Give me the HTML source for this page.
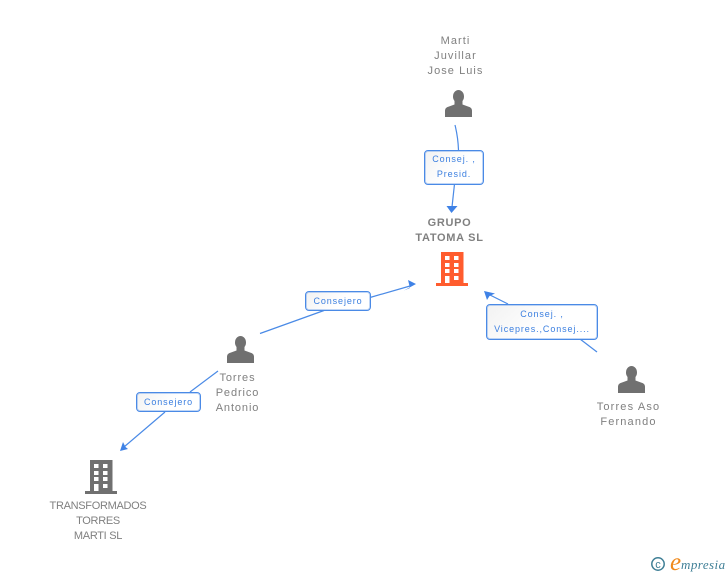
<!DOCTYPE html>
<html><head><meta charset="utf-8">
<style>
html,body{margin:0;padding:0;background:#fff}
#c{position:relative;width:728px;height:575px;overflow:hidden;background:#fff;font-family:"Liberation Sans",sans-serif}
.t{position:absolute;text-align:center;color:#808080;font-size:11px;line-height:15px;letter-spacing:1.05px;white-space:nowrap;transform:translateX(-50%)}
.b{position:absolute;box-sizing:border-box;border:1px solid #4a8ae6;box-shadow:inset 0 0 0 1px rgba(74,138,230,.35);border-radius:4px;background:linear-gradient(135deg,#f2f2f2,#fff 55%);color:#3b7fe0;font-size:9px;line-height:15px;letter-spacing:.9px;text-align:center;white-space:nowrap}
svg{position:absolute;left:0;top:0}
</style></head><body><div id="c">
<svg width="728" height="575" viewBox="0 0 728 575">
<defs>
<g id="p"><ellipse cx="13.500" cy="6.500" rx="5.500" ry="6.500"/><path d="M0 27V20.500Q0 17.500 4 16.500L9.500 14.500V10H17.500V14.500L23 16.500Q27 17.500 27 20.500V27Z"/></g>
<g id="h"><rect x="5" y="0" width="22.500" height="32"/><rect x="0" y="31" width="32" height="3"/>
<g fill="#fff"><rect x="9" y="4" width="4.500" height="4"/><rect x="18" y="4" width="4.500" height="4"/><rect x="9" y="11" width="4.500" height="4"/><rect x="18" y="11" width="4.500" height="4"/><rect x="9" y="17" width="4.500" height="4"/><rect x="18" y="17" width="4.500" height="4"/><rect x="9" y="24" width="4.500" height="7"/><rect x="18" y="24" width="4.500" height="4"/></g></g>
</defs>
<g fill="none" stroke="#4a8ae6" stroke-width="1.200">
<path d="M455 125Q458 137 458.500 150"/>
<path d="M454.500 184L452 207"/>
<path d="M260 333.500L324 310.500"/>
<path d="M370 297.500L410 286"/>
<path d="M508 304L490 295"/>
<path d="M580 339L597 352"/>
<path d="M218 371L190 392"/>
<path d="M165 412L124 447"/>
</g>
<g fill="#3f82e6">
<path d="M446.500 206L457.500 206L451.500 213Z"/>
<path d="M416 284L408 280L410 288L404 290.500Z"/>
<path d="M484 291L495 293.500L489.500 296L487 300Z"/>
<path d="M120 451L123 442L125.500 447L128 449Z"/>
</g>
<use href="#p" x="445" y="90" fill="#707070"/>
<use href="#p" x="227" y="336" fill="#707070"/>
<use href="#p" x="618" y="366" fill="#707070"/>
<use href="#h" x="436" y="252" fill="#ff5c2e"/>
<use href="#h" x="85" y="460" fill="#707070"/>
<circle cx="658" cy="564" r="6.200" fill="none" stroke="#3f7f96" stroke-width="1.500"/>
<text x="658" y="568" font-family="Liberation Sans" font-size="11" fill="#3f7f96" text-anchor="middle">c</text>
<text x="670" y="570" font-family="Liberation Serif" font-style="italic" font-size="25" fill="#f08a1d">e</text>
<text x="681" y="569" font-family="Liberation Serif" font-style="italic" font-size="13" fill="#3f7f96" letter-spacing=".45">mpresia</text>
</svg>
<div class="t" style="left:455.500px;top:33px;margin-top:.5px">Marti<br>Juvillar<br>Jose Luis</div>
<div class="t" style="left:449.500px;top:216px;font-weight:bold;letter-spacing:.7px">GRUPO<br>TATOMA SL</div>
<div class="t" style="left:237.500px;top:371px;letter-spacing:.9px">Torres<br>Pedrico<br>Antonio</div>
<div class="t" style="left:628.500px;top:400px;letter-spacing:1.150px">Torres Aso<br>Fernando</div>
<div class="t" style="left:98px;top:499px;letter-spacing:-.3px">TRANSFORMADOS<br>TORRES<br>MARTI SL</div>
<div class="b" style="left:424px;top:150px;width:60px;height:35px;padding-top:0.500px">Consej. ,<br>Presid.</div>
<div class="b" style="left:305px;top:291px;width:66px;height:20px;line-height:18px">Consejero</div>
<div class="b" style="left:486px;top:304px;width:112px;height:36px;padding-top:2px">Consej. ,<br>Vicepres.,Consej....</div>
<div class="b" style="left:136px;top:392px;width:65px;height:20px;line-height:18px">Consejero</div>
</div></body></html>
